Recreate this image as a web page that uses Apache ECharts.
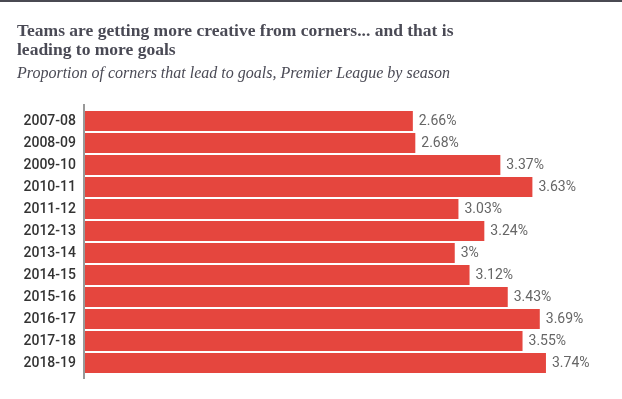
<!DOCTYPE html>
<html>
<head>
<meta charset="utf-8">
<script src="https://cdn.jsdelivr.net/npm/echarts@6/dist/echarts.min.js"></script>
<style>
  html, body { margin: 0; padding: 0; background: #fff; }
  #chart { width: 622px; height: 399px; }
</style>
</head>
<body>
<div id="chart"></div>
<script>
// seasons, top to bottom
var seasons = ['2007-08', '2008-09', '2009-10', '2010-11', '2011-12', '2012-13',
               '2013-14', '2014-15', '2015-16', '2016-17', '2017-18', '2018-19'];
// % of corners leading to goals
var cornerGoalPct = [2.66, 2.68, 3.37, 3.63, 3.03, 3.24, 3, 3.12, 3.43, 3.69, 3.55, 3.74];

var chart = echarts.init(document.getElementById('chart'));

var option = {
    animation: false,
    title: {
        text: 'Teams are getting more creative from corners... and that is\nleading to more goals',
        subtext: 'Proportion of corners that lead to goals, Premier League by season',
        left: 17,
        top: 22,
        padding: 0,
        itemGap: 6,
        textStyle: {
            fontFamily: 'Liberation Serif',
            fontWeight: 'bold',
            fontSize: 17.5,
            lineHeight: 19,
            color: '#4a4a55'
        },
        subtextStyle: {
            fontFamily: 'Liberation Serif',
            fontStyle: 'italic',
            fontSize: 16,
            color: '#4a4a55'
        }
    },
    grid: {
        left: 85,
        top: 110,
        width: 493,
        height: 264
    },
    xAxis: {
        type: 'value',
        min: 0,
        max: 4,
        show: false
    },
    yAxis: {
        type: 'category',
        inverse: true,
        data: seasons,
        axisLine: { show: false },
        axisTick: { show: false },
        axisLabel: {
            margin: 9,
            fontFamily: 'Roboto',
            fontWeight: 500,
            fontSize: 14,
            color: '#333'
        }
    },
    graphic: [{
        type: 'rect',
        shape: { x: 0, y: 0, width: 622, height: 2 },
        style: { fill: '#4a4a52' }
    }, {
        type: 'line',
        shape: { x1: 84, y1: 104, x2: 84, y2: 379 },
        style: { stroke: '#999', lineWidth: 2 }
    }],
    series: [{
        type: 'bar',
        data: cornerGoalPct,
        barWidth: 20,
        itemStyle: { color: '#e5463e' },
        label: {
            show: true,
            position: 'right',
            distance: 6,
            formatter: '{c}%',
            fontFamily: 'Roboto',
            fontSize: 14,
            color: '#666'
        }
    }]
};

chart.setOption(option);
</script>
</body>
</html>
